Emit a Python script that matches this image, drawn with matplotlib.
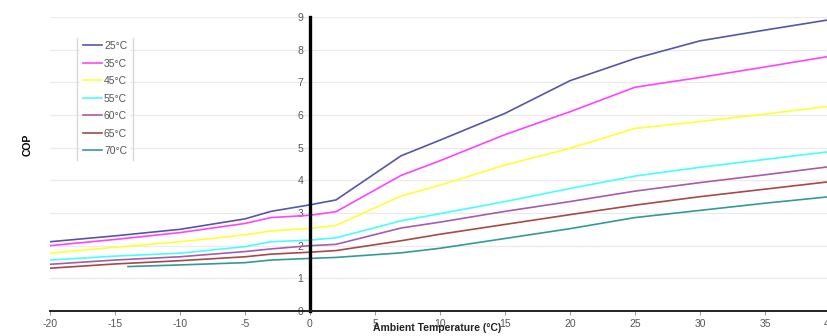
import matplotlib
matplotlib.use("Agg")
import matplotlib.pyplot as plt
from matplotlib.lines import Line2D

plt.rcParams["font.family"] = ["Liberation Sans", "DejaVu Sans"]
plt.rcParams["axes.unicode_minus"] = False

temps = [-20, -15, -10, -5, -3, 0, 2, 7, 10, 15, 20, 25, 30, 35, 40]
cop_25 = [2.12, 2.30, 2.50, 2.82, 3.05, 3.25, 3.40, 4.75, 5.23, 6.05, 7.05, 7.73, 8.27, 8.60, 8.92]
cop_35 = [2.00, 2.19, 2.40, 2.68, 2.86, 2.93, 3.04, 4.15, 4.60, 5.40, 6.10, 6.85, 7.15, 7.47, 7.80]
cop_45 = [1.77, 1.95, 2.12, 2.33, 2.45, 2.53, 2.62, 3.52, 3.85, 4.47, 4.98, 5.59, 5.80, 6.03, 6.27]
cop_55 = [1.56, 1.68, 1.77, 1.97, 2.12, 2.17, 2.24, 2.76, 2.98, 3.35, 3.75, 4.13, 4.40, 4.64, 4.88]
cop_60 = [1.43, 1.56, 1.66, 1.82, 1.90, 2.00, 2.04, 2.54, 2.72, 3.05, 3.35, 3.67, 3.93, 4.17, 4.42]
cop_65 = [1.31, 1.44, 1.54, 1.66, 1.74, 1.80, 1.85, 2.15, 2.35, 2.65, 2.95, 3.24, 3.50, 3.73, 3.96]
temps_70 = [-14, -10, -5, -3, 0, 2, 7, 10, 15, 20, 25, 30, 35, 40]
cop_70 = [1.36, 1.41, 1.48, 1.56, 1.61, 1.64, 1.78, 1.92, 2.22, 2.52, 2.86, 3.08, 3.30, 3.50]

labels = ["25°C", "35°C", "45°C", "55°C", "60°C", "65°C", "70°C"]
colors = ["#5656a8", "#ff44ff", "#ffff33", "#44ffff", "#aa5aaa", "#a84848", "#339a9a"]

W, H = 827, 336
fig = plt.figure(figsize=(W / 100, H / 100), dpi=100)
ax = fig.add_axes([50 / W, 25 / H, 780 / W, 294 / H])

series = [(temps, cop_25), (temps, cop_35), (temps, cop_45), (temps, cop_55),
          (temps, cop_60), (temps, cop_65), (temps_70, cop_70)]
for (x, y), lab, c in zip(series, labels, colors):
    ax.plot(x, y, color=c, lw=1.2, label=lab)

ax.set_xlim(-20, 40)
ax.set_ylim(0, 9)
ax.set_xticks(range(-20, 41, 5))
ax.set_yticks(range(0, 10))
ax.grid(axis="y", color="#ebebeb", lw=0.9)
ax.set_axisbelow(True)

ax.spines["left"].set_position(("data", 0))
ax.spines["left"].set_linewidth(2.4)
ax.spines["left"].set_color("black")
ax.spines["bottom"].set_linewidth(1.4)
ax.spines["bottom"].set_color("#222222")
ax.spines["top"].set_visible(False)
ax.spines["right"].set_visible(False)

ax.tick_params(axis="y", length=0, pad=5, labelsize=7.5, labelcolor="#555555")
ax.tick_params(axis="x", length=3, width=0.6, color="#888888", pad=3,
               labelsize=7.5, labelcolor="#555555")

fig.text(28 / W, 1 - 145 / H, "COP", rotation=90, ha="center", va="center",
         fontsize=7.5, fontweight="bold")
fig.text(437 / W, 1 - 328 / H, "Ambient Temperature (°C)", ha="center", va="center",
         fontsize=7.5, fontweight="bold", color="#222222")

leg = ax.legend(loc="upper left", bbox_to_anchor=(80 / W, 1 - 38 / H),
                bbox_transform=fig.transFigure, frameon=True, fontsize=7.5,
                handlelength=1.8, handletextpad=0.2, labelspacing=0.72,
                borderpad=0.3, borderaxespad=0)
leg.get_frame().set_edgecolor("none")
leg.get_frame().set_facecolor("white")
leg.get_frame().set_alpha(1)
for t in leg.get_texts():
    t.set_color("#555555")

for px in (77, 133):
    fig.add_artist(Line2D([px / W, px / W], [1 - 38 / H, 1 - 160 / H],
                          transform=fig.transFigure, color="#d8d8d8", lw=1))

fig.savefig("out.png", dpi=100)
